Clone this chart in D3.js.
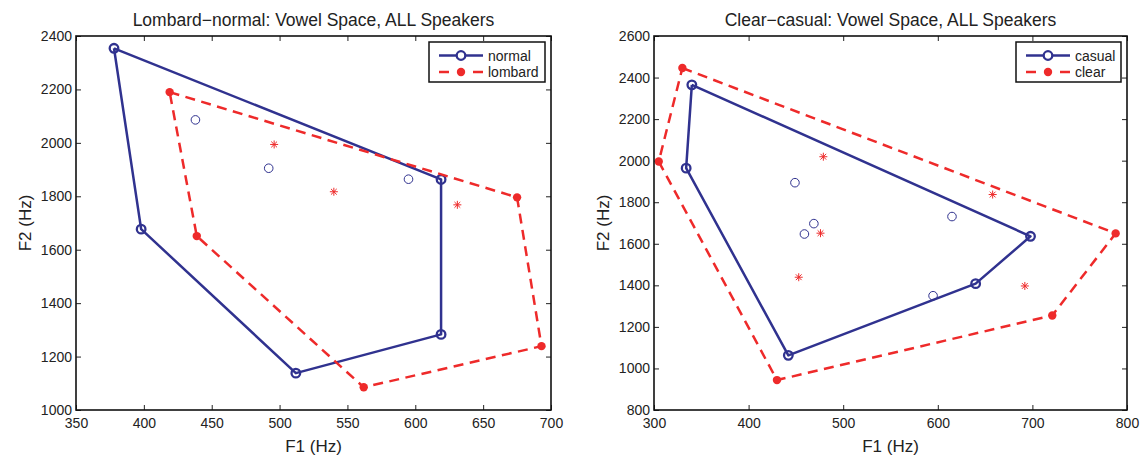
<!DOCTYPE html>
<html>
<head>
<meta charset="utf-8">
<script src="https://cdn.jsdelivr.net/npm/d3@7"></script>
<style>
  html, body { margin: 0; padding: 0; background: #fff; }
  svg { display: block; font-family: "Liberation Sans", Arial, Helvetica, sans-serif; }
</style>
</head>
<body>
<svg id="chart" width="1142" height="457"></svg>
<script>
// ---- Lombard vs normal speech (F1/F2 in Hz) ----
const normalHullF1 = [378, 619, 619, 512, 398];
const normalHullF2 = [2354, 1863, 1283, 1138, 1677];
const normalInnerF1 = [438, 492, 595];
const normalInnerF2 = [2086, 1905, 1864];
const lombardHullF1 = [419, 675, 693, 562, 439];
const lombardHullF2 = [2190, 1796, 1239, 1085, 1651];
const lombardInnerF1 = [496, 540, 631];
const lombardInnerF2 = [1994, 1817, 1768];

// ---- Clear vs casual speech (F1/F2 in Hz) ----
const casualHullF1 = [340, 698, 640, 442, 334];
const casualHullF2 = [2365, 1636, 1408, 1063, 1964];
const casualInnerF1 = [449, 469, 459, 615, 595];
const casualInnerF2 = [1894, 1697, 1647, 1731, 1350];
const clearHullF1 = [330, 788, 721, 430, 305];
const clearHullF2 = [2446, 1650, 1255, 944, 1996];
const clearInnerF1 = [479, 658, 476, 453, 692];
const clearInnerF2 = [2019, 1837, 1651, 1439, 1397];

// ---- Axis ticks ----
const leftXTicks = [350, 400, 450, 500, 550, 600, 650, 700];
const leftYTicks = [1000, 1200, 1400, 1600, 1800, 2000, 2200, 2400];
const rightXTicks = [300, 400, 500, 600, 700, 800];
const rightYTicks = [800, 1000, 1200, 1400, 1600, 1800, 2000, 2200, 2400, 2600];

const leftTitle = "Lombard\u2212normal: Vowel Space, ALL Speakers";
const rightTitle = "Clear\u2212casual: Vowel Space, ALL Speakers";
const xLabel = "F1 (Hz)";
const yLabel = "F2 (Hz)";
const leftLegend = ["normal", "lombard"];
const rightLegend = ["casual", "clear"];

const BLUE = "#30328f";
const RED = "#ee2a2a";
const FONT_TICK = 14;

const zip = (a, b) => a.map((v, i) => [v, b[i]]);

const svg = d3.select("#chart");

function drawPanel(cfg) {
  const g = svg.append("g");
  const x = d3.scaleLinear().domain(d3.extent(cfg.xTicks)).range([cfg.left, cfg.right]);
  const y = d3.scaleLinear().domain(d3.extent(cfg.yTicks)).range([cfg.bottom, cfg.top]);

  // inward ticks on all four sides
  const tick = 5;
  const axB = g.append("g").attr("transform", `translate(0,${cfg.bottom})`)
    .call(d3.axisBottom(x).tickValues(cfg.xTicks).tickSize(-tick).tickPadding(8).tickFormat(d3.format("d")));
  const axT = g.append("g").attr("transform", `translate(0,${cfg.top})`)
    .call(d3.axisTop(x).tickValues(cfg.xTicks).tickSize(-tick).tickFormat(""));
  const axL = g.append("g").attr("transform", `translate(${cfg.left},0)`)
    .call(d3.axisLeft(y).tickValues(cfg.yTicks).tickSize(-tick).tickPadding(4).tickFormat(d3.format("d")));
  const axR = g.append("g").attr("transform", `translate(${cfg.right},0)`)
    .call(d3.axisRight(y).tickValues(cfg.yTicks).tickSize(-tick).tickFormat(""));
  [axB, axT, axL, axR].forEach(a => {
    a.select(".domain").remove();
    a.selectAll(".tick line").attr("stroke", "#222").attr("stroke-width", 1);
    a.selectAll("text").attr("font-size", FONT_TICK).attr("fill", "#222").attr("font-family", null);
  });

  // data layers
  const line = d3.line().x(d => x(d[0])).y(d => y(d[1]));
  const blueHull = zip(cfg.blueHullF1, cfg.blueHullF2);
  const redHull = zip(cfg.redHullF1, cfg.redHullF2);

  g.append("path").datum([...blueHull, blueHull[0]])
    .attr("d", line).attr("fill", "none").attr("stroke", BLUE)
    .attr("stroke-width", 2.5).attr("stroke-linejoin", "round");
  g.append("g").selectAll("circle").data(blueHull).join("circle")
    .attr("cx", d => x(d[0])).attr("cy", d => y(d[1])).attr("r", 4.3)
    .attr("fill", "none").attr("stroke", BLUE).attr("stroke-width", 2.3);
  g.append("g").selectAll("circle").data(zip(cfg.blueInnerF1, cfg.blueInnerF2)).join("circle")
    .attr("cx", d => x(d[0])).attr("cy", d => y(d[1])).attr("r", 4.3)
    .attr("fill", "none").attr("stroke", BLUE).attr("stroke-width", 1);

  g.append("path").datum([...redHull, redHull[0]])
    .attr("d", line).attr("fill", "none").attr("stroke", RED)
    .attr("stroke-width", 2.5).attr("stroke-dasharray", "10,6.5");
  g.append("g").selectAll("circle").data(redHull).join("circle")
    .attr("cx", d => x(d[0])).attr("cy", d => y(d[1])).attr("r", 4.2)
    .attr("fill", RED);
  const star = g.append("g").selectAll("g").data(zip(cfg.redInnerF1, cfg.redInnerF2)).join("g")
    .attr("transform", d => `translate(${x(d[0])},${y(d[1])})`);
  const s = 4, sd = s * 0.72;
  [[-s, 0, s, 0], [0, -s, 0, s], [-sd, -sd, sd, sd], [-sd, sd, sd, -sd]].forEach(c => {
    star.append("line").attr("x1", c[0]).attr("y1", c[1]).attr("x2", c[2]).attr("y2", c[3])
      .attr("stroke", RED).attr("stroke-width", 1);
  });

  // frame
  g.append("rect").attr("x", cfg.left).attr("y", cfg.top)
    .attr("width", cfg.right - cfg.left).attr("height", cfg.bottom - cfg.top)
    .attr("fill", "none").attr("stroke", "#111").attr("stroke-width", 1.6);

  // title and axis labels
  g.append("text").attr("x", (cfg.left + cfg.right) / 2).attr("y", 26)
    .attr("text-anchor", "middle").attr("font-size", 17.5).attr("fill", "#222").text(cfg.title);
  g.append("text").attr("x", (cfg.left + cfg.right) / 2).attr("y", 452)
    .attr("text-anchor", "middle").attr("font-size", 17).attr("fill", "#222").text(xLabel);
  g.append("text")
    .attr("transform", `translate(${cfg.left - 45},${(cfg.top + cfg.bottom) / 2}) rotate(-90)`)
    .attr("text-anchor", "middle").attr("font-size", 17).attr("fill", "#222").text(yLabel);

  // legend
  const lw = cfg.legendWidth, lh = 40;
  const lx = cfg.right - 6 - lw, ly = cfg.top + 6;
  const lg = g.append("g").attr("transform", `translate(${lx},${ly})`);
  lg.append("rect").attr("width", lw).attr("height", lh)
    .attr("fill", "#fff").attr("stroke", "#111").attr("stroke-width", 1.5);

  // solid entry: line with open circle
  const r1 = 13.5, r2 = 30;
  lg.append("line").attr("x1", 10).attr("x2", 54).attr("y1", r1).attr("y2", r1)
    .attr("stroke", BLUE).attr("stroke-width", 2.5);
  lg.append("circle").attr("cx", 32).attr("cy", r1).attr("r", 4.3)
    .attr("fill", "#fff").attr("stroke", BLUE).attr("stroke-width", 2.3);
  // dashed entry: two dashes around a filled dot
  [[10, 20], [44, 54]].forEach(d => {
    lg.append("line").attr("x1", d[0]).attr("x2", d[1]).attr("y1", r2).attr("y2", r2)
      .attr("stroke", RED).attr("stroke-width", 2.5);
  });
  lg.append("circle").attr("cx", 32).attr("cy", r2).attr("r", 4.2).attr("fill", RED);

  lg.append("text").attr("x", 59).attr("y", r1 + 5).attr("font-size", 14)
    .attr("fill", "#222").text(cfg.legend[0]);
  lg.append("text").attr("x", 59).attr("y", r2 + 5).attr("font-size", 14)
    .attr("fill", "#222").text(cfg.legend[1]);
}

drawPanel({
  left: 76, right: 551, top: 36, bottom: 410,
  xTicks: leftXTicks, yTicks: leftYTicks, title: leftTitle,
  blueHullF1: normalHullF1, blueHullF2: normalHullF2,
  blueInnerF1: normalInnerF1, blueInnerF2: normalInnerF2,
  redHullF1: lombardHullF1, redHullF2: lombardHullF2,
  redInnerF1: lombardInnerF1, redInnerF2: lombardInnerF2,
  legend: leftLegend, legendWidth: 116
});

drawPanel({
  left: 654, right: 1127, top: 36, bottom: 410,
  xTicks: rightXTicks, yTicks: rightYTicks, title: rightTitle,
  blueHullF1: casualHullF1, blueHullF2: casualHullF2,
  blueInnerF1: casualInnerF1, blueInnerF2: casualInnerF2,
  redHullF1: clearHullF1, redHullF2: clearHullF2,
  redInnerF1: clearInnerF1, redInnerF2: clearInnerF2,
  legend: rightLegend, legendWidth: 105
});
</script>
</body>
</html>
